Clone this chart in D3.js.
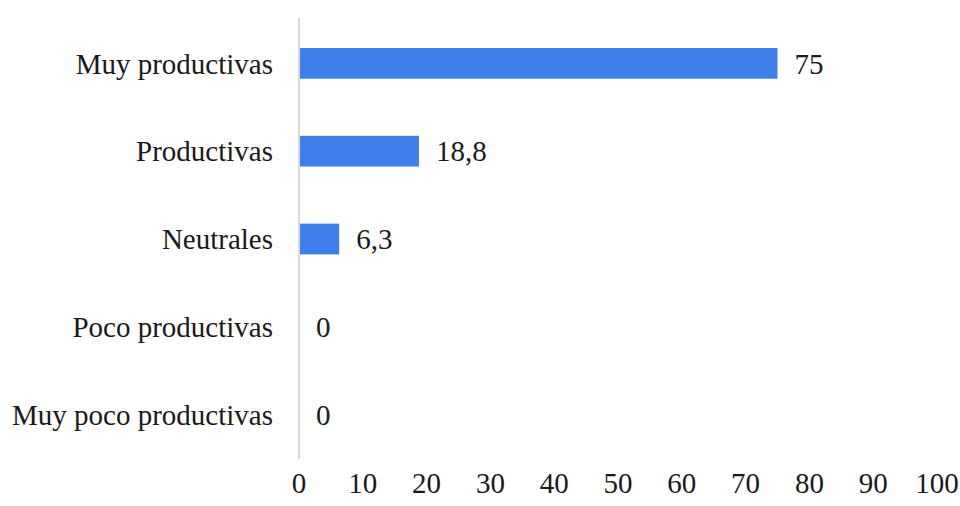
<!DOCTYPE html>
<html>
<head>
<meta charset="utf-8">
<script src="https://cdn.jsdelivr.net/npm/d3@7"></script>
<style>
  body { margin: 0; background: #fff; }
  text { font-family: "Liberation Serif", "Times New Roman", serif; fill: #1a1a1a; }
</style>
</head>
<body>
<svg id="chart" width="960" height="506"></svg>
<script>
// Data
const categories = ["Muy productivas", "Productivas", "Neutrales", "Poco productivas", "Muy poco productivas"];
const values = [75, 18.8, 6.3, 0, 0];
const valueLabels = ["75", "18,8", "6,3", "0", "0"];
const ticks = [0, 10, 20, 30, 40, 50, 60, 70, 80, 90, 100];

const svg = d3.select("#chart");
const fontSize = 29;

const x = d3.scaleLinear().domain([0, 100]).range([299, 937]);
const y = d3.scaleBand().domain(categories).range([19, 459]).paddingInner(0.65).paddingOuter(0.33);

// bars
svg.selectAll("rect.bar")
  .data(values)
  .enter()
  .append("rect")
  .attr("class", "bar")
  .attr("x", x(0))
  .attr("y", (d, i) => y(categories[i]))
  .attr("width", d => x(d) - x(0))
  .attr("height", y.bandwidth())
  .attr("fill", "#3f7fea");

// vertical axis line
svg.append("line")
  .attr("x1", x(0)).attr("x2", x(0))
  .attr("y1", 18).attr("y2", 459)
  .attr("stroke", "#d9d9d9")
  .attr("stroke-width", 2);

// category labels
svg.selectAll("text.cat")
  .data(categories)
  .enter()
  .append("text")
  .attr("class", "cat")
  .attr("x", x(0) - 26)
  .attr("y", d => y(d) + y.bandwidth() / 2)
  .attr("dy", "0.35em")
  .attr("text-anchor", "end")
  .style("font-size", fontSize + "px")
  .text(d => d);

// value labels
svg.selectAll("text.val")
  .data(values)
  .enter()
  .append("text")
  .attr("class", "val")
  .attr("x", d => x(d) + 17)
  .attr("y", (d, i) => y(categories[i]) + y.bandwidth() / 2)
  .attr("dy", "0.35em")
  .style("font-size", fontSize + "px")
  .text((d, i) => valueLabels[i]);

// x tick labels
svg.selectAll("text.tick")
  .data(ticks)
  .enter()
  .append("text")
  .attr("class", "tick")
  .attr("x", d => x(d))
  .attr("y", 483)
  .attr("dy", "0.35em")
  .attr("text-anchor", "middle")
  .style("font-size", fontSize + "px")
  .text(d => d);
</script>
</body>
</html>
